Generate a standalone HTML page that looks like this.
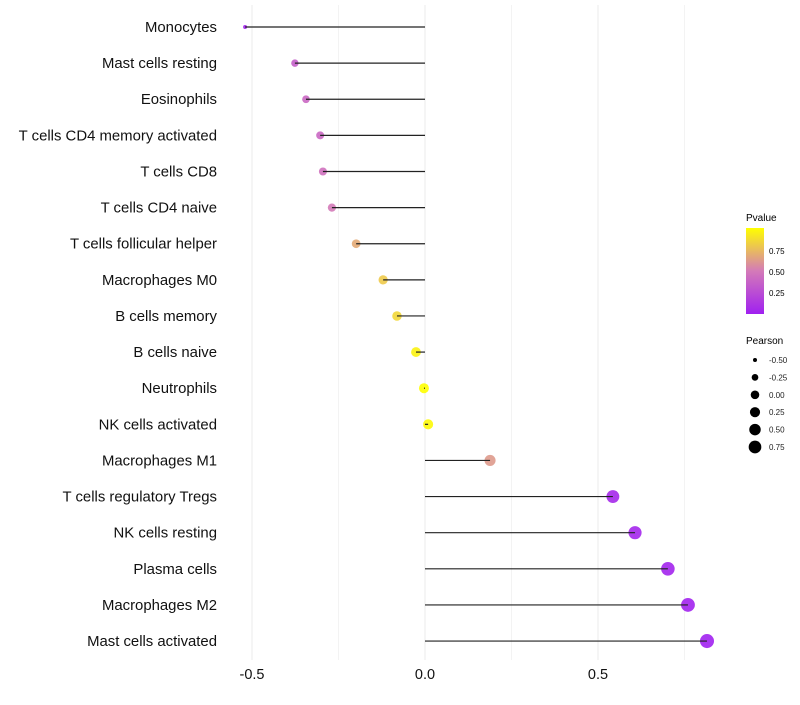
<!DOCTYPE html>
<html><head><meta charset="utf-8"><style>
body{margin:0;background:#fff;font-family:"Liberation Sans",sans-serif}
</style></head><body>
<svg id="chart" width="800" height="700" xmlns="http://www.w3.org/2000/svg">
<g id="grid"></g>
<g id="marks"></g>
<g id="ylab"></g>
<g id="xlab"></g>
<g id="legend">
<defs><linearGradient id="pg" x1="0" y1="1" x2="0" y2="0"><stop offset="0" stop-color="#a020f0"/><stop offset="0.5" stop-color="#d47ab8"/><stop offset="1" stop-color="#ffff00"/></linearGradient></defs>
<text x="746" y="221" font-size="10">Pvalue</text>
<rect x="746" y="228" width="18" height="86" fill="url(#pg)"/>
<text x="769" y="254" font-size="8">0.75</text>
<text x="769" y="275" font-size="8">0.50</text>
<text x="769" y="296" font-size="8">0.25</text>
<text x="746" y="344" font-size="10">Pearson</text>
</g>
</svg>
<script>
const categories=["Monocytes","Mast cells resting","Eosinophils","T cells CD4 memory activated","T cells CD8","T cells CD4 naive","T cells follicular helper","Macrophages M0","B cells memory","B cells naive","Neutrophils","NK cells activated","Macrophages M1","T cells regulatory  Tregs ","NK cells resting","Plasma cells","Macrophages M2","Mast cells activated"];
const pearson=[-0.52,-0.376,-0.344,-0.303,-0.295,-0.269,-0.199,-0.121,-0.081,-0.026,-0.003,0.009,0.188,0.543,0.607,0.702,0.760,0.815];
const pvalue=[0.03,0.35,0.4,0.4,0.45,0.5,0.68,0.8,0.85,0.95,1.0,0.98,0.62,0.05,0.04,0.03,0.02,0.01];
const xTicks=[-0.5,0,0.5];
const xTickLabels=["-0.5","0.0","0.5"];
const sizeLegend=[-0.5,-0.25,0,0.25,0.5,0.75];
const sizeLegendLabels=["-0.50","-0.25","0.00","0.25","0.50","0.75"];
const NS="http://www.w3.org/2000/svg";
const x=v=>425+v*346;
const y=i=>27+i*36.12;
const r=v=>v<-0.45?2:Math.sqrt(Math.max(4,25+30*v));
const rl=v=>Math.sqrt(Math.max(1,18.4+28.8*v));
function col(p){const a=[160,32,240],m=[212,122,184],b=[255,255,0];let c;
 if(p<0.5){const t=p/0.5;c=a.map((v,k)=>v+(m[k]-v)*t);}else{const t=(p-0.5)/0.5;c=m.map((v,k)=>v+(b[k]-v)*t);}
 return `rgb(${c.map(Math.round).join(",")})`;}
function mk(tag,attrs,parent){const e=document.createElementNS(NS,tag);for(const k in attrs)e.setAttribute(k,attrs[k]);parent.appendChild(e);return e;}
const grid=document.getElementById("grid"),marks=document.getElementById("marks"),ylab=document.getElementById("ylab"),xlab=document.getElementById("xlab"),legend=document.getElementById("legend");
[-0.5,-0.25,0,0.25,0.5,0.75].forEach(v=>{
 const l=mk("line",{x1:x(v),x2:x(v),y1:5,y2:660,stroke:Number.isInteger(v*2)?"#ebebeb":"#f3f3f3","stroke-width":1},grid);
 
 
});
xTicks.forEach((v,i)=>{
 const t=mk("text",{x:x(v),y:679,"font-size":14.5,"text-anchor":"middle",fill:"#111"},xlab);t.textContent=xTickLabels[i];
 
 
});
categories.forEach((c,i)=>{
 const t=mk("text",{x:217,y:y(i)+5,"font-size":14.9,"text-anchor":"end",fill:"#111"},ylab);t.textContent=c;
 
 
 const d=mk("circle",{cx:x(pearson[i]),cy:y(i),r:r(pearson[i]),fill:col(pvalue[i]),"fill-opacity":0.9},marks);
 
 
 const l=mk("line",{x1:x(0),x2:x(pearson[i]),y1:y(i),y2:y(i),stroke:"#222","stroke-width":1.2},marks);
 
 
});
sizeLegend.forEach((v,i)=>{
 const cy=360+i*17.4;
 const d=mk("circle",{cx:755,cy:cy,r:rl(v),fill:"#000"},legend);
 
 
 const t=mk("text",{x:769,y:cy+3,"font-size":8,fill:"#222"},legend);t.textContent=sizeLegendLabels[i];
 
 
});
</script>
</body></html>
